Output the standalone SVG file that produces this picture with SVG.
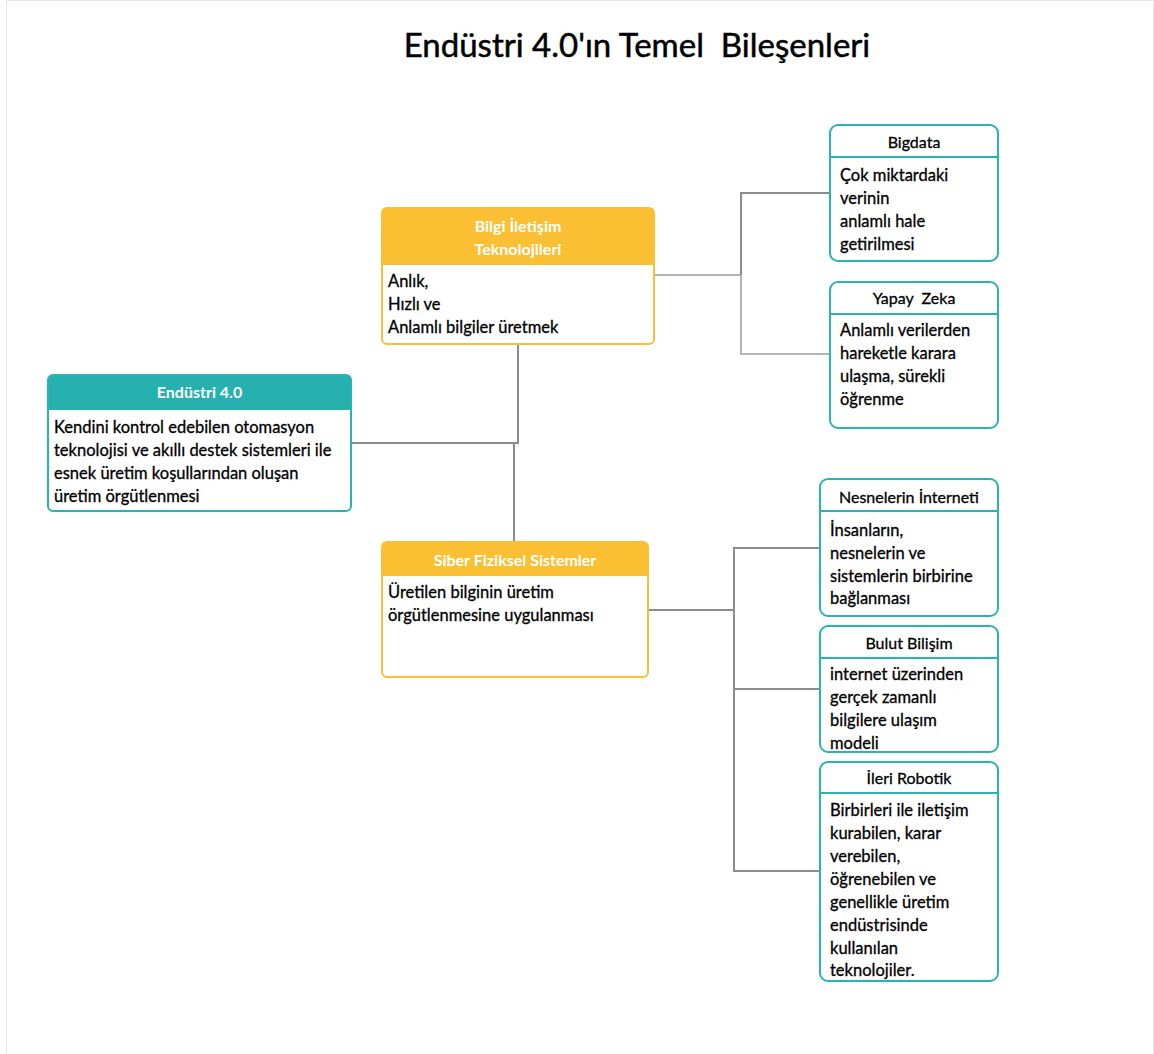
<svg xmlns="http://www.w3.org/2000/svg" width="1154" height="1054" viewBox="0 0 1154 1054">
<style>
text{font-family:Lato,"Noto Sans","DejaVu Sans",sans-serif;}
.title{font-size:33px;fill:#000;stroke:#000;stroke-width:0.5;}
.body{font-size:16.5px;fill:#000;stroke:#000;stroke-width:0.3;}
.hw{font-size:16px;font-weight:bold;fill:#fff;text-anchor:middle;}
.hb{font-size:16px;fill:#000;stroke:#000;stroke-width:0.3;text-anchor:middle;}
.teal{stroke:#2bb3b0;stroke-width:2;fill:none;}
.yel{stroke:#fbbf33;stroke-width:2;fill:none;}
.conn{stroke:#8c8c8c;stroke-width:2;fill:none;}
.connl{stroke:#b4b4b4;stroke-width:2;fill:none;}
</style>
<rect x="0" y="0" width="1154" height="1054" fill="#fff"/>
<path d="M6.5 1054 V0.5 H1153.5 V1054" stroke="#e6e6e6" stroke-width="1" fill="none"/>
<text class="title" x="637" y="57" text-anchor="middle" xml:space="preserve">Endüstri 4.0'ın Temel  Bileşenleri</text>

<g id="connectors">
<path class="conn" d="M351 443 H518 V344"/>
<path class="conn" d="M514 443 V542"/>
<path class="connl" d="M654 275 H741 V354 H830"/>
<path class="conn" d="M741 275 V193 H830"/>
<path class="conn" d="M648 610 H734"/>
<path class="conn" d="M820 548 H734 V871 H820"/>
<path class="conn" d="M734 689 H820"/>
</g>

<g id="endustri">
<rect x="48" y="375" width="303" height="136" rx="5" fill="#fff"/>
<path d="M48 409 V380 Q48 375 53 375 H346 Q351 375 351 380 V409 Z" fill="#26b0ae"/>
<rect class="teal" x="48" y="375" width="303" height="136" rx="5"/>
<line x1="48" y1="409" x2="351" y2="409" stroke="#26b0ae" stroke-width="2"/>
<text class="hw" x="199.5" y="398">Endüstri 4.0</text>
<text class="body" x="54" y="433">Kendini kontrol edebilen otomasyon</text>
<text class="body" x="54" y="456">teknolojisi ve akıllı destek sistemleri ile</text>
<text class="body" x="54" y="479">esnek üretim koşullarından oluşan</text>
<text class="body" x="54" y="502">üretim örgütlenmesi</text>
</g>

<g id="bilgi">
<rect x="382" y="208" width="272" height="136" rx="5" fill="#fff"/>
<path d="M382 265 V213 Q382 208 387 208 H649 Q654 208 654 213 V265 Z" fill="#fbbf33"/>
<rect class="yel" x="382" y="208" width="272" height="136" rx="5"/>
<text class="hw" x="518" y="232">Bilgi İletişim</text>
<text class="hw" x="518" y="255">Teknolojileri</text>
<text class="body" x="388" y="287">Anlık,</text>
<text class="body" x="388" y="310">Hızlı ve</text>
<text class="body" x="388" y="333">Anlamlı bilgiler üretmek</text>
</g>

<g id="siber">
<rect x="382" y="542" width="266" height="135" rx="5" fill="#fff"/>
<path d="M382 576 V547 Q382 542 387 542 H643 Q648 542 648 547 V576 Z" fill="#fbbf33"/>
<rect class="yel" x="382" y="542" width="266" height="135" rx="5"/>
<text class="hw" x="515" y="566">Siber Fiziksel Sistemler</text>
<text class="body" x="388" y="598">Üretilen bilginin üretim</text>
<text class="body" x="388" y="621">örgütlenmesine uygulanması</text>
</g>

<g id="bigdata">
<rect class="teal" x="830" y="125" width="168" height="136" rx="8" fill="#fff"/>
<line x1="830" y1="157" x2="998" y2="157" stroke="#2bb3b0" stroke-width="2"/>
<text class="hb" x="914" y="148">Bigdata</text>
<text class="body" x="840" y="181">Çok miktardaki</text>
<text class="body" x="840" y="204">verinin</text>
<text class="body" x="840" y="227">anlamlı hale</text>
<text class="body" x="840" y="250">getirilmesi</text>
</g>

<g id="yapayzeka">
<rect class="teal" x="830" y="282" width="168" height="146" rx="8" fill="#fff"/>
<line x1="830" y1="314" x2="998" y2="314" stroke="#2bb3b0" stroke-width="2"/>
<text class="hb" x="914" y="304" xml:space="preserve">Yapay  Zeka</text>
<text class="body" x="840" y="336">Anlamlı verilerden</text>
<text class="body" x="840" y="359">hareketle karara</text>
<text class="body" x="840" y="382">ulaşma, sürekli</text>
<text class="body" x="840" y="405">öğrenme</text>
</g>

<g id="nesneler">
<rect class="teal" x="820" y="479" width="178" height="137" rx="8" fill="#fff"/>
<line x1="820" y1="511" x2="998" y2="511" stroke="#2bb3b0" stroke-width="2"/>
<text class="hb" x="909" y="503">Nesnelerin İnterneti</text>
<text class="body" x="830" y="536">İnsanların,</text>
<text class="body" x="830" y="559">nesnelerin ve</text>
<text class="body" x="830" y="582">sistemlerin birbirine</text>
<text class="body" x="830" y="604">bağlanması</text>
</g>

<g id="bulut">
<rect class="teal" x="820" y="626" width="178" height="126" rx="8" fill="#fff"/>
<line x1="820" y1="658" x2="998" y2="658" stroke="#2bb3b0" stroke-width="2"/>
<text class="hb" x="909" y="649">Bulut Bilişim</text>
<text class="body" x="830" y="680">internet üzerinden</text>
<text class="body" x="830" y="703">gerçek zamanlı</text>
<text class="body" x="830" y="726">bilgilere ulaşım</text>
<text class="body" x="830" y="749">modeli</text>
</g>

<g id="ileri">
<rect class="teal" x="820" y="762" width="178" height="219" rx="8" fill="#fff"/>
<line x1="820" y1="793" x2="998" y2="793" stroke="#2bb3b0" stroke-width="2"/>
<text class="hb" x="909" y="784">İleri Robotik</text>
<text class="body" x="830" y="816">Birbirleri ile iletişim</text>
<text class="body" x="830" y="839">kurabilen, karar</text>
<text class="body" x="830" y="862">verebilen,</text>
<text class="body" x="830" y="885">öğrenebilen ve</text>
<text class="body" x="830" y="908">genellikle üretim</text>
<text class="body" x="830" y="931">endüstrisinde</text>
<text class="body" x="830" y="954">kullanılan</text>
<text class="body" x="830" y="976">teknolojiler.</text>
</g>
</svg>
